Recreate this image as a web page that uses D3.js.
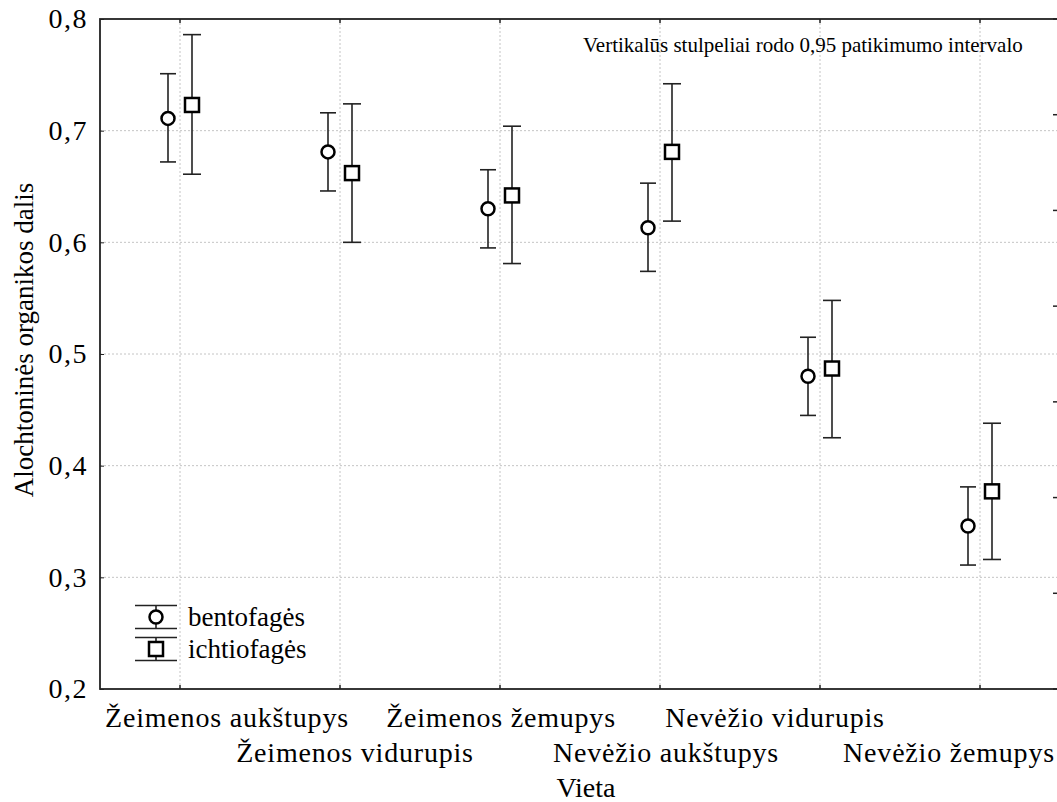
<!DOCTYPE html>
<html>
<head>
<meta charset="utf-8">
<script src="https://cdn.jsdelivr.net/npm/d3@7/dist/d3.min.js"></script>
<style>
  html, body { margin: 0; padding: 0; background: #fff; overflow: hidden; }
  text { font-family: "Liberation Serif", "Times New Roman", serif; fill: #000; }
</style>
</head>
<body>
<div id="vis"></div>
<script>
// categories on the x axis
const categories = [
    "Žeimenos aukštupys", "Žeimenos vidurupis", "Žeimenos žemupys",
    "Nevėžio aukštupys", "Nevėžio vidurupis", "Nevėžio žemupys"
];

// bentofagės: mean and 0,95 confidence interval
const bentoMean = [0.711, 0.681, 0.630, 0.613, 0.480, 0.346];
const bentoLow  = [0.672, 0.646, 0.595, 0.574, 0.445, 0.311];
const bentoHigh = [0.751, 0.716, 0.665, 0.653, 0.515, 0.381];

// ichtiofagės: mean and 0,95 confidence interval
const ichtioMean = [0.723, 0.662, 0.642, 0.681, 0.487, 0.377];
const ichtioLow  = [0.661, 0.600, 0.581, 0.619, 0.425, 0.316];
const ichtioHigh = [0.786, 0.724, 0.704, 0.742, 0.548, 0.438];

const yTicks = [0.2, 0.3, 0.4, 0.5, 0.6, 0.7, 0.8];
const seriesNames = ["bentofagės", "ichtiofagės"];
const yTitle = "Alochtoninės organikos dalis";
const xTitle = "Vieta";
const note = "Vertikalūs stulpeliai rodo 0,95 patikimumo intervalo";

const W = 1057, H = 802;
const m = { left: 100, top: 19, right: 1060, bottom: 689 };
const ink = "#222";

const svg = d3.select("#vis").append("svg")
    .attr("width", W)
    .attr("height", H);

const x = d3.scaleBand().domain(categories).range([m.left, m.right]).padding(0);
const xc = (c) => x(c) + x.bandwidth() / 2;
const y = d3.scaleLinear().domain([0.2, 0.8]).range([m.bottom, m.top]);
// right frame ticks, seven equal steps
const yr = d3.scaleLinear().domain([0, 7]).range([m.bottom, m.top]);

const fmt = (v) => d3.format(".1f")(v).replace(".", ",");

// grid
const grid = svg.append("g");
grid.selectAll("line.h")
    .data(yTicks.slice(1, -1))
    .enter().append("line")
    .attr("class", "h")
    .attr("x1", m.left).attr("x2", m.right)
    .attr("y1", (d) => y(d)).attr("y2", (d) => y(d))
    .attr("stroke", "#c4c4c4").attr("stroke-dasharray", "2,2");
grid.selectAll("line.v")
    .data(categories)
    .enter().append("line")
    .attr("class", "v")
    .attr("x1", (d) => xc(d)).attr("x2", (d) => xc(d))
    .attr("y1", m.top).attr("y2", m.bottom)
    .attr("stroke", "#c4c4c4").attr("stroke-dasharray", "2,2");

// frame
svg.append("rect")
    .attr("x", m.left).attr("y", m.top)
    .attr("width", m.right - m.left).attr("height", m.bottom - m.top)
    .attr("fill", "none").attr("stroke", ink).attr("stroke-width", 1.8);

// left axis (ticks inward)
const yAxis = d3.axisLeft(y).tickValues(yTicks).tickSize(-4).tickPadding(12).tickFormat(fmt);
const ga = svg.append("g").attr("transform", `translate(${m.left},0)`).call(yAxis);
ga.select(".domain").remove();
ga.selectAll(".tick line").attr("stroke", ink);
ga.selectAll(".tick text")
    .style("font-family", '"Liberation Serif", serif')
    .attr("font-size", 28).attr("letter-spacing", 1.5).attr("fill", "#000");

// right ticks
svg.append("g").selectAll("line")
    .data(yr.ticks(7))
    .enter().append("line")
    .attr("x1", m.right - 7).attr("x2", m.right - 3)
    .attr("y1", (d) => yr(d)).attr("y2", (d) => yr(d))
    .attr("stroke", ink).attr("stroke-width", 1.5);

// top and bottom ticks
svg.append("g").selectAll("line")
    .data(categories)
    .enter().append("line")
    .attr("x1", (d) => xc(d)).attr("x2", (d) => xc(d))
    .attr("y1", m.bottom - 4).attr("y2", m.bottom)
    .attr("stroke", ink).attr("stroke-width", 1.5);
svg.append("g").selectAll("line")
    .data(categories)
    .enter().append("line")
    .attr("x1", (d) => xc(d)).attr("x2", (d) => xc(d))
    .attr("y1", m.top).attr("y2", m.top + 4)
    .attr("stroke", ink).attr("stroke-width", 1.5);

// category labels, staggered on two rows
const labelDx = [47, 15, 1, 6, -45, -31];
svg.append("g").selectAll("text")
    .data(categories)
    .enter().append("text")
    .attr("x", (d, i) => xc(d) + labelDx[i])
    .attr("y", (d, i) => i % 2 === 0 ? 727 : 762)
    .attr("text-anchor", "middle")
    .attr("font-size", 28)
    .attr("letter-spacing", 0.8)
    .text((d) => d);

svg.append("text")
    .attr("x", 586).attr("y", 797)
    .attr("text-anchor", "middle").attr("font-size", 28)
    .text(xTitle);

svg.append("text")
    .attr("transform", "translate(33,340) rotate(-90)")
    .attr("text-anchor", "middle").attr("font-size", 27)
    .text(yTitle);

svg.append("text")
    .attr("x", 583).attr("y", 52)
    .attr("font-size", 21)
    .text(note);

// series data
const series = [
    { name: seriesNames[0], shape: "circle", dx: -12, cap: 8,
      rows: categories.map((c, i) => ({ c, m: bentoMean[i], lo: bentoLow[i], hi: bentoHigh[i] })) },
    { name: seriesNames[1], shape: "square", dx: 12, cap: 9,
      rows: categories.map((c, i) => ({ c, m: ichtioMean[i], lo: ichtioLow[i], hi: ichtioHigh[i] })) }
];

function drawMarker(g, shape, cx, cy) {
    if (shape === "circle") {
        g.append("circle").attr("cx", cx).attr("cy", cy).attr("r", 6.5)
            .attr("fill", "#fff").attr("stroke", "#000").attr("stroke-width", 2.5);
    } else {
        g.append("rect").attr("x", cx - 7).attr("y", cy - 7)
            .attr("width", 14).attr("height", 14)
            .attr("fill", "#fff").attr("stroke", "#000").attr("stroke-width", 2.5);
    }
}

function drawBar(g, cx, yHi, yLo, cap) {
    g.append("line").attr("x1", cx).attr("x2", cx).attr("y1", yHi).attr("y2", yLo)
        .attr("stroke", ink).attr("stroke-width", 1.6);
    g.append("line").attr("x1", cx - cap).attr("x2", cx + cap).attr("y1", yHi).attr("y2", yHi)
        .attr("stroke", ink).attr("stroke-width", 1.6);
    g.append("line").attr("x1", cx - cap).attr("x2", cx + cap).attr("y1", yLo).attr("y2", yLo)
        .attr("stroke", ink).attr("stroke-width", 1.6);
}

const marks = svg.append("g");
series.forEach((s) => {
    s.rows.forEach((r) => {
        const cx = xc(r.c) + s.dx;
        drawBar(marks, cx, y(r.hi), y(r.lo), s.cap);
        drawMarker(marks, s.shape, cx, y(r.m));
    });
});

// legend
const legend = svg.append("g");
series.forEach((s, i) => {
    const cy = 617 + i * 32;
    drawBar(legend, 156, cy - 11.5, cy + 11.5, 21);
    drawMarker(legend, s.shape, 156, cy);
    legend.append("text")
        .attr("x", 188).attr("y", cy + 9)
        .attr("font-size", 27)
        .text(s.name);
});
</script>
</body>
</html>
